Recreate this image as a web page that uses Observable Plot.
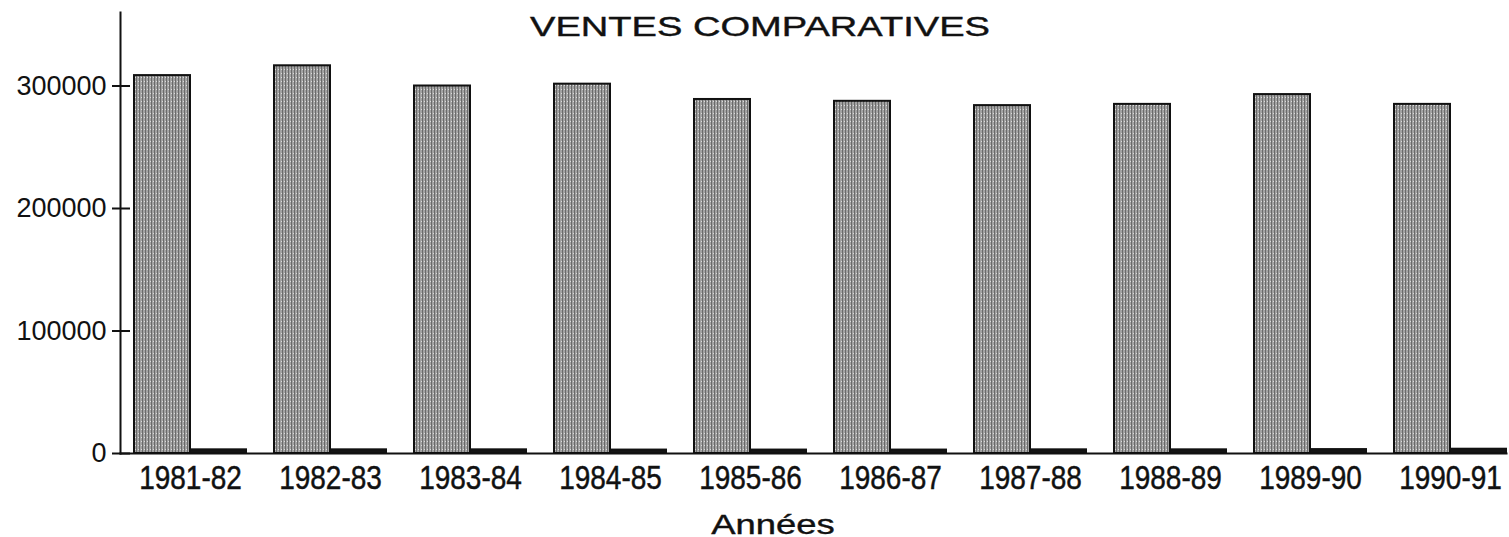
<!DOCTYPE html>
<html>
<head>
<meta charset="utf-8">
<script src="https://cdn.jsdelivr.net/npm/d3@7"></script>
<script src="https://cdn.jsdelivr.net/npm/@observablehq/plot@0.6"></script>
<style>
  body { margin: 0; background: #fff; }
  #wrap { position: relative; width: 1509px; height: 537px; font-family: "Liberation Sans", Arial, Helvetica, sans-serif; color: #111; }
  .t { position: absolute; white-space: nowrap; line-height: 1; z-index: 2; -webkit-text-stroke: 0.4px #111; }
  #title { left: 760px; top: 13px; font-size: 28px; transform: translateX(-50%) scaleX(1.36); }
  #xlab { left: 773px; top: 511px; font-size: 28px; transform: translateX(-50%) scaleX(1.3); }
  svg { position: absolute; left: 0; top: 0; }
</style>
</head>
<body>
<div id="wrap">
  <div class="t" id="title">VENTES COMPARATIVES</div>
  <div class="t" id="xlab">Années</div>
</div>
<script>
// Categories (x axis)
const years = ["1981-82", "1982-83", "1983-84", "1984-85", "1985-86", "1986-87", "1987-88", "1988-89", "1989-90", "1990-91"];
// Series names
const seriesNames = ["Série 1", "Série 2"];
// Series values
const serie1 = [308500, 316500, 300000, 301500, 289000, 287500, 284000, 285000, 293000, 285000];
const serie2 = [3000, 3000, 3000, 2800, 2800, 2800, 3000, 3000, 3200, 3500];
// Y tick values
const yTicks = [0, 100000, 200000, 300000];

const data = years.flatMap((a, i) => [
  {annee: a, serie: seriesNames[0], valeur: serie1[i]},
  {annee: a, serie: seriesNames[1], valeur: serie2[i]}
]);

const chart = Plot.plot({
  width: 1509,
  height: 537,
  marginTop: 12,
  marginBottom: 84,
  marginLeft: 116,
  marginRight: 0,
  style: {fontFamily: "'Liberation Sans', Arial, Helvetica, sans-serif", color: "#111", background: "transparent", overflow: "visible"},
  fx: {domain: years, paddingInner: 0.1, paddingOuter: 0, label: null},
  x: {domain: seriesNames, padding: 0, insetLeft: 13, axis: null},
  y: {domain: [0, 360000], label: null},
  color: {domain: seriesNames, range: ["url(#grain)", "#151515"]},
  marks: [
    Plot.barY(data, {fx: "annee", x: "serie", y: "valeur", fill: "serie", stroke: "#111", strokeWidth: 2}),
    Plot.frame({anchor: "left", facet: "super", strokeWidth: 2, stroke: "#111"}),
    Plot.frame({anchor: "bottom", facet: "super", strokeWidth: 2, stroke: "#111"}),
    Plot.axisY({ticks: yTicks, tickSize: 8, tickPadding: 6, tickFormat: d => String(d), fontSize: 27, label: null, strokeWidth: 2}),
    Plot.axisY({ticks: yTicks, tickSize: 10, dx: 10, tickFormat: () => "", label: null, strokeWidth: 2}),
    Plot.axisFx({anchor: "bottom", tickSize: 0, tickPadding: 12, dx: 7, fontSize: 28, label: null})
  ]
});

// texture pattern for the grey bars
const defs = d3.select(chart).insert("defs", ":first-child");
const pat = defs.append("pattern").attr("id", "grain").attr("patternUnits", "userSpaceOnUse").attr("width", 3).attr("height", 4);
pat.append("rect").attr("width", 3).attr("height", 4).attr("fill", "#a2a2a2");
pat.append("rect").attr("x", 0).attr("width", 1).attr("height", 4).attr("fill", "#6a6a6a");
pat.append("rect").attr("x", 2).attr("y", 1).attr("width", 1).attr("height", 1).attr("fill", "#dcdcdc");

// slightly taller x tick labels, as in the scan
d3.select(chart).selectAll('g[aria-label="fx-axis tick label"] text').each(function() {
  const t = this.getAttribute("transform") || "";
  this.setAttribute("transform", t + " scale(1,1.2)");
  this.style.stroke = "#111";
  this.style.strokeWidth = "0.4px";
});

document.getElementById("wrap").appendChild(chart);
</script>
</body>
</html>
